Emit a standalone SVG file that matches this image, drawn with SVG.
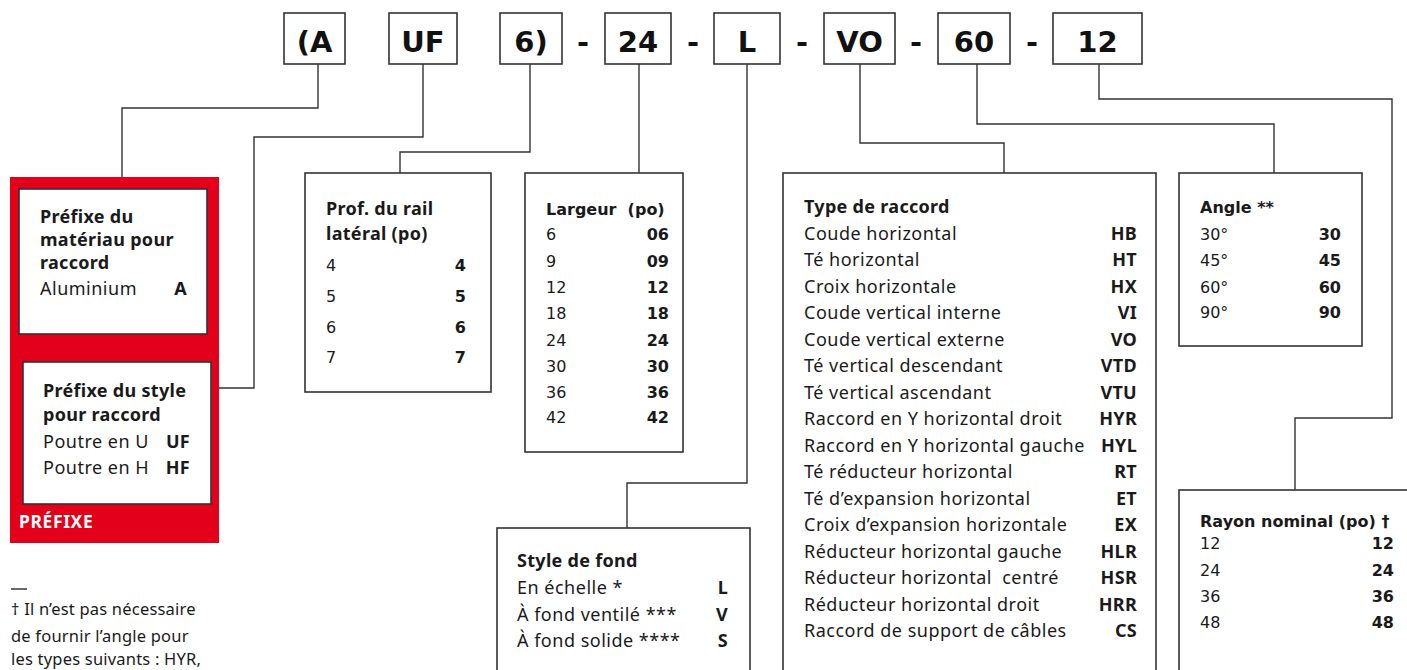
<svg xmlns="http://www.w3.org/2000/svg" width="1407" height="670" viewBox="0 0 1407 670">
<style>
.bx{fill:#fff;stroke:#333;stroke-width:1.6}
.cn{fill:none;stroke:#333;stroke-width:1.4}
.code{font-family:"DejaVu Sans",Verdana,sans-serif;font-weight:700;font-size:29px;fill:#111;text-anchor:middle}
.t{font-family:"Noto Sans","Open Sans",sans-serif;font-size:18px;letter-spacing:0.5px;fill:#1a1a1a}
.b{font-family:"Noto Sans","Open Sans",sans-serif;font-size:18px;letter-spacing:0.3px;font-weight:700;fill:#1a1a1a}
.r{text-anchor:end}
.d{font-family:"DejaVu Sans",Verdana,sans-serif;font-size:16px;fill:#1a1a1a}
.db{font-family:"DejaVu Sans",Verdana,sans-serif;font-size:16px;font-weight:700;fill:#1a1a1a}
.fn{font-family:"Noto Sans","Open Sans",sans-serif;font-size:16.5px;letter-spacing:0.2px;fill:#1a1a1a}
</style>
<g id="codes">
<rect class="bx" x="284" y="13" width="61" height="51"/><text class="code" x="314.5" y="52">(A</text>
<rect class="bx" x="389" y="13" width="68" height="51"/><text class="code" x="423" y="52">UF</text>
<rect class="bx" x="500" y="13" width="62" height="51"/><text class="code" x="531" y="52">6)</text>
<text class="code" x="583" y="52">-</text>
<rect class="bx" x="605" y="13" width="66" height="51"/><text class="code" x="638" y="52">24</text>
<text class="code" x="693" y="52">-</text>
<rect class="bx" x="714" y="13" width="66" height="51"/><text class="code" x="747" y="52">L</text>
<text class="code" x="802" y="52">-</text>
<rect class="bx" x="824" y="13" width="71" height="51"/><text class="code" x="859.5" y="52">VO</text>
<text class="code" x="916" y="52">-</text>
<rect class="bx" x="938" y="13" width="72" height="51"/><text class="code" x="974" y="52">60</text>
<text class="code" x="1032" y="52">-</text>
<rect class="bx" x="1053" y="13" width="89" height="51"/><text class="code" x="1097.5" y="52">12</text>
</g>
<g id="connectors">
<polyline class="cn" points="318,64 318,108 122,108 122,189"/>
<polyline class="cn" points="423,64 423,137 254,137 254,388 211,388"/>
<polyline class="cn" points="530,64 530,152 400,152 400,173"/>
<polyline class="cn" points="639,64 639,173"/>
<polyline class="cn" points="747,64 747,483 627,483 627,528"/>
<polyline class="cn" points="860,64 860,143 1004,143 1004,173"/>
<polyline class="cn" points="977,64 977,124 1274,124 1274,173"/>
<polyline class="cn" points="1099,64 1099,99 1392,99 1392,418 1295,418 1295,490"/>
</g>
<g id="prefixe">
<rect x="10" y="177" width="209" height="366" fill="#e2001a"/>
<text x="19" y="528" font-family="'Noto Sans','Open Sans',sans-serif" font-size="17.5" letter-spacing="0.6" font-weight="700" fill="#fff">PRÉFIXE</text>
</g>
<g id="materiau">
<rect class="bx" x="19" y="189" width="188" height="145"/>
<text class="b" x="40" y="223">Préfixe du</text>
<text class="b" x="40" y="246">matériau pour</text>
<text class="b" x="40" y="269">raccord</text>
<text class="t" x="40" y="295">Aluminium</text><text class="b r" x="187" y="295">A</text>
</g>
<g id="style-raccord">
<rect class="bx" x="23" y="362" width="188" height="142"/>
<text class="b" x="43" y="397">Préfixe du style</text>
<text class="b" x="43" y="421">pour raccord</text>
<text class="t" x="43" y="448" letter-spacing="0.2">Poutre en U</text><text class="b r" x="190" y="448">UF</text>
<text class="t" x="43" y="474" letter-spacing="0.2">Poutre en H</text><text class="b r" x="190" y="474">HF</text>
</g>
<g id="profondeur">
<rect class="bx" x="305" y="173" width="186" height="219"/>
<text class="b" x="326" y="215">Prof. du rail</text>
<text class="b" x="326" y="240">latéral (po)</text>
<text class="d" x="326" y="271">4</text><text class="db r" x="466" y="271">4</text>
<text class="d" x="326" y="302">5</text><text class="db r" x="466" y="302">5</text>
<text class="d" x="326" y="333">6</text><text class="db r" x="466" y="333">6</text>
<text class="d" x="326" y="363">7</text><text class="db r" x="466" y="363">7</text>
</g>
<g id="largeur">
<rect class="bx" x="525" y="173" width="158" height="279"/>
<text class="db" x="546" y="215" xml:space="preserve">Largeur  (po)</text>
<text class="d" x="546" y="240">6</text><text class="db r" x="669" y="240">06</text>
<text class="d" x="546" y="267">9</text><text class="db r" x="669" y="267">09</text>
<text class="d" x="546" y="293">12</text><text class="db r" x="669" y="293">12</text>
<text class="d" x="546" y="319">18</text><text class="db r" x="669" y="319">18</text>
<text class="d" x="546" y="346">24</text><text class="db r" x="669" y="346">24</text>
<text class="d" x="546" y="372">30</text><text class="db r" x="669" y="372">30</text>
<text class="d" x="546" y="398">36</text><text class="db r" x="669" y="398">36</text>
<text class="d" x="546" y="423">42</text><text class="db r" x="669" y="423">42</text>
</g>
<g id="style-fond">
<rect class="bx" x="497" y="528" width="253" height="160"/>
<text class="b" x="517" y="567">Style de fond</text>
<text class="t" x="517" y="594">En échelle *</text><text class="b r" x="728" y="594">L</text>
<text class="t" x="517" y="621">À fond ventilé ***</text><text class="b r" x="728" y="621">V</text>
<text class="t" x="517" y="647">À fond solide ****</text><text class="b r" x="728" y="647">S</text>
</g>
<g id="type">
<rect class="bx" x="783" y="173" width="373" height="520"/>
<text class="b" x="804" y="213">Type de raccord</text>
<text class="t" x="804" y="240">Coude horizontal</text><text class="b r" x="1137" y="240">HB</text>
<text class="t" x="804" y="266">Té horizontal</text><text class="b r" x="1137" y="266">HT</text>
<text class="t" x="804" y="293">Croix horizontale</text><text class="b r" x="1137" y="293">HX</text>
<text class="t" x="804" y="319">Coude vertical interne</text><text class="b r" x="1137" y="319">VI</text>
<text class="t" x="804" y="346">Coude vertical externe</text><text class="b r" x="1137" y="346">VO</text>
<text class="t" x="804" y="372">Té vertical descendant</text><text class="b r" x="1137" y="372">VTD</text>
<text class="t" x="804" y="399">Té vertical ascendant</text><text class="b r" x="1137" y="399">VTU</text>
<text class="t" x="804" y="425">Raccord en Y horizontal droit</text><text class="b r" x="1137" y="425">HYR</text>
<text class="t" x="804" y="452">Raccord en Y horizontal gauche</text><text class="b r" x="1137" y="452">HYL</text>
<text class="t" x="804" y="478">Té réducteur horizontal</text><text class="b r" x="1137" y="478">RT</text>
<text class="t" x="804" y="505">Té d’expansion horizontal</text><text class="b r" x="1137" y="505">ET</text>
<text class="t" x="804" y="531">Croix d’expansion horizontale</text><text class="b r" x="1137" y="531">EX</text>
<text class="t" x="804" y="558">Réducteur horizontal gauche</text><text class="b r" x="1137" y="558">HLR</text>
<text class="t" x="804" y="584" xml:space="preserve">Réducteur horizontal  centré</text><text class="b r" x="1137" y="584">HSR</text>
<text class="t" x="804" y="611">Réducteur horizontal droit</text><text class="b r" x="1137" y="611">HRR</text>
<text class="t" x="804" y="637">Raccord de support de câbles</text><text class="b r" x="1137" y="637">CS</text>
</g>
<g id="angle">
<rect class="bx" x="1179" y="173" width="183" height="173"/>
<text class="db" x="1200" y="213">Angle **</text>
<text class="d" x="1200" y="240">30°</text><text class="db r" x="1341" y="240">30</text>
<text class="d" x="1200" y="266">45°</text><text class="db r" x="1341" y="266">45</text>
<text class="d" x="1200" y="293">60°</text><text class="db r" x="1341" y="293">60</text>
<text class="d" x="1200" y="318">90°</text><text class="db r" x="1341" y="318">90</text>
</g>
<g id="rayon">
<rect class="bx" x="1179" y="490" width="240" height="200"/>
<text class="db" x="1200" y="527">Rayon nominal (po) †</text>
<text class="d" x="1200" y="549">12</text><text class="db r" x="1394" y="549">12</text>
<text class="d" x="1200" y="576">24</text><text class="db r" x="1394" y="576">24</text>
<text class="d" x="1200" y="602">36</text><text class="db r" x="1394" y="602">36</text>
<text class="d" x="1200" y="628">48</text><text class="db r" x="1394" y="628">48</text>
</g>
<g id="footnote">
<line x1="11" y1="589" x2="27" y2="589" stroke="#1a1a1a" stroke-width="1.3"/>
<text class="fn" x="11" y="615">† Il n’est pas nécessaire</text>
<text class="fn" x="11" y="642">de fournir l’angle pour</text>
<text class="fn" x="11" y="665">les types suivants : HYR,</text>
<text class="fn" x="11" y="690">HYL, HLR, HRR, HSR</text>
</g>
</svg>
